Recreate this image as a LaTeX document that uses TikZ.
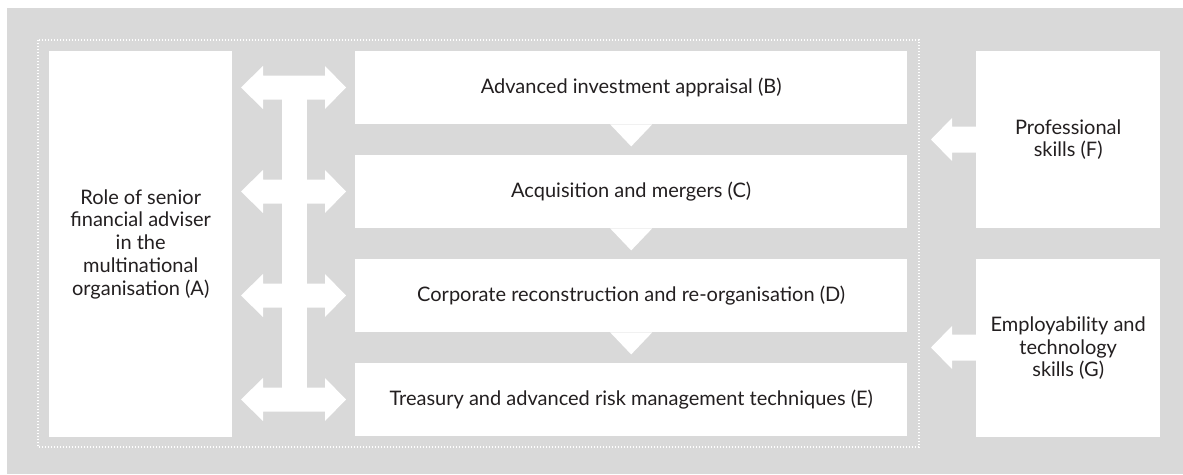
\documentclass[tikz,border=0pt]{standalone}
\usepackage{fontspec}
\setmainfont{Lato}
\definecolor{bggray}{RGB}{217,217,217}
\definecolor{txt}{RGB}{35,31,32}
\begin{document}
\begin{tikzpicture}[x=1pt,y=-1pt,
  box/.style={fill=white, draw=none, inner sep=0pt, anchor=north west, align=center,
    font=\fontsize{20}{22.75}\selectfont, text=txt},
  bar/.style={fill=white, draw=none}]
\useasboundingbox (0,0) rectangle (1183,474);
\fill[bggray] (7,8) rectangle (1183,474);
\draw[white, line width=1.1pt, dash pattern=on 1.1pt off 1.9pt] (38,40) rectangle (919,447);
% boxes
\node[box, minimum width=183, minimum height=386] (A) at (49,51) {Role of senior\\financial adviser\\in the\\multinational\\organisation (A)};
\node[box, minimum width=552, minimum height=73] (B) at (355,51) {Advanced investment appraisal (B)};
\node[box, minimum width=552, minimum height=73] (C) at (355,155) {Acquisition and mergers (C)};
\node[box, minimum width=552, minimum height=73] (D) at (355,259) {Corporate reconstruction and re-organisation (D)};
\node[box, minimum width=552, minimum height=73] (E) at (355,363) {Treasury and advanced risk management techniques (E)};
\node[box, minimum width=184, minimum height=177] (F) at (976,51) {Professional\\skills (F)};
\node[box, minimum width=184, minimum height=178] (G) at (976,259) {Employability and\\technology\\skills (G)};
% chevrons between stacked boxes
\foreach \n in {B,C,D}{
  \fill[white] ([xshift=-21pt]\n.south) -- ([xshift=21pt]\n.south) -- ([yshift=-22pt]\n.south) -- cycle;
}
% double arrows between A and B..E
\foreach \yy in {87.5,191.5,295.5,399.5}{
  \fill[white] (241,\yy) -- (263,\yy-21.5) -- (263,\yy-12) -- (325,\yy-12) -- (325,\yy-21.5)
    -- (346,\yy) -- (325,\yy+21.5) -- (325,\yy+12) -- (263,\yy+12) -- (263,\yy+21.5) -- cycle;
}
% vertical bar
\fill[white] (282,87.5) rectangle (307,399.5);
% arrows from F and G
\foreach \yy/\n in {139.5/F,347.5/G}{
  \fill[white] (931,\yy) -- (952,\yy-21.5) -- (952,\yy-13) -- (977,\yy-13) -- (977,\yy+13)
    -- (952,\yy+13) -- (952,\yy+21.5) -- cycle;
}
\end{tikzpicture}
\end{document}
